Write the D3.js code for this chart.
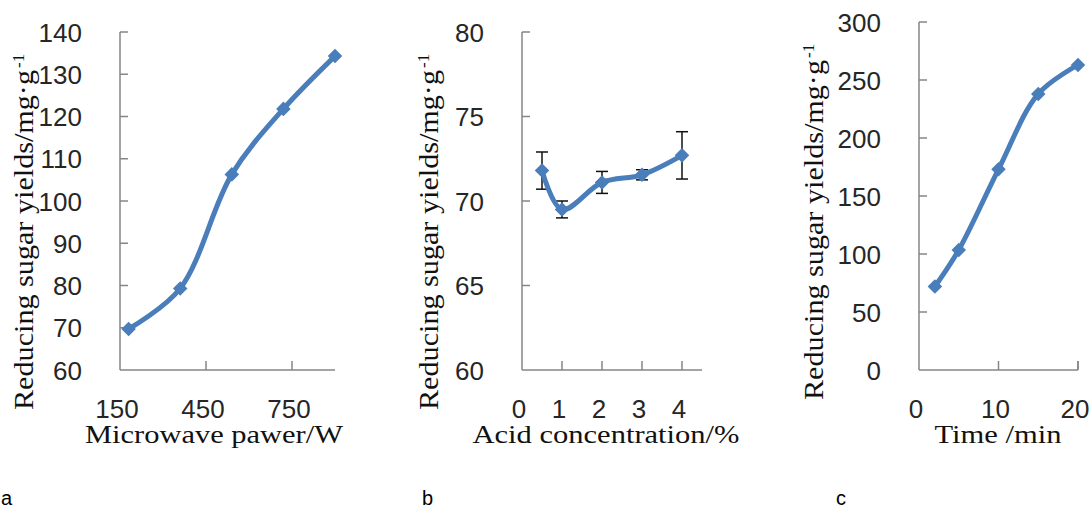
<!DOCTYPE html>
<html lang="en">
<head>
  <meta charset="UTF-8" />
  <title>Reducing sugar yields</title>
  <style>
    body { margin: 0; background: #fff; }
    svg { display: block; }
    .tick-label { font-family: "Liberation Sans", Arial, sans-serif; font-size: 26px; fill: #262626; }
    .axis-title { font-family: "Liberation Serif", "Times New Roman", serif; fill: #111; }
    .panel-label { font-family: "Liberation Sans", Arial, sans-serif; font-size: 20px; fill: #000; }
  </style>
</head>
<body>
  <div id="chart"></div>

  <script src="https://d3js.org/d3.v7.min.js"></script>

  <script>
    // panel a: microwave power
    const powerW = [180, 360, 540, 720, 900];
    const powerYield = [69.7, 79.3, 106.3, 121.8, 134.3];
    const powerTicks = [150, 450, 750];
    const powerYTicks = [60, 70, 80, 90, 100, 110, 120, 130, 140];

    // panel b: acid concentration (with error bars)
    const acidPct = [0.5, 1, 2, 3, 4];
    const acidYield = [71.8, 69.5, 71.1, 71.55, 72.7];
    const acidErr = [1.1, 0.5, 0.65, 0.3, 1.4];
    const acidTicks = [0, 1, 2, 3, 4];
    const acidYTicks = [60, 65, 70, 75, 80];

    // panel c: time
    const timeMin = [2, 5, 10, 15, 20];
    const timeYield = [72, 103.5, 173, 238, 263];
    const timeTicks = [0, 10, 20];
    const timeYTicks = [0, 50, 100, 150, 200, 250, 300];

    const blue = "#4a7ebb";
    const axisColor = "#868686";

    const svg = d3.select("#chart")
      .append("svg")
      .attr("width", 1092)
      .attr("height", 510);

    const panels = [
      {
        xs: powerW, ys: powerYield, err: null,
        xDomain: [150, 900], yDomain: [60, 140],
        xTicks: powerTicks, yTicks: powerYTicks,
        left: 120, right: 335, top: 32, bottom: 370,
        xTitle: "Microwave pawer/W", xTitleX: 214, xTitleLen: 258,
        yTitleX: 33, yTitleStart: 410, letter: "a", letterX: 1
      },
      {
        xs: acidPct, ys: acidYield, err: acidErr,
        xDomain: [0, 4.5], yDomain: [60, 80],
        xTicks: acidTicks, yTicks: acidYTicks,
        left: 522, right: 702, top: 32, bottom: 370,
        xTitle: "Acid concentration/%", xTitleX: 606, xTitleLen: 267,
        yTitleX: 438, yTitleStart: 410, letter: "b", letterX: 422
      },
      {
        xs: timeMin, ys: timeYield, err: null,
        xDomain: [0, 20], yDomain: [0, 300],
        xTicks: timeTicks, yTicks: timeYTicks,
        left: 919, right: 1078, top: 22, bottom: 370,
        xTitle: "Time /min", xTitleX: 998, xTitleLen: 127,
        yTitleX: 823, yTitleStart: 400, letter: "c", letterX: 836
      }
    ];

    panels.forEach(p => {
      const x = d3.scaleLinear().domain(p.xDomain).range([p.left, p.right]);
      const y = d3.scaleLinear().domain(p.yDomain).range([p.bottom, p.top]);
      const g = svg.append("g");

      // axes lines
      g.append("line")
        .attr("x1", p.left).attr("x2", p.left)
        .attr("y1", y(p.yDomain[1])).attr("y2", p.bottom)
        .attr("stroke", axisColor).attr("stroke-width", 1.5);
      g.append("line")
        .attr("x1", p.left).attr("x2", p.right)
        .attr("y1", p.bottom).attr("y2", p.bottom)
        .attr("stroke", axisColor).attr("stroke-width", 1.5);

      // y ticks (inside)
      g.selectAll(".ytick")
        .data(p.yTicks.filter(v => v !== p.yDomain[0]))
        .enter().append("line")
        .attr("x1", p.left).attr("x2", p.left + 8)
        .attr("y1", d => y(d)).attr("y2", d => y(d))
        .attr("stroke", axisColor).attr("stroke-width", 1.5);

      g.selectAll(".ylab")
        .data(p.yTicks)
        .enter().append("text")
        .attr("class", "tick-label")
        .attr("x", p.left - 38)
        .attr("y", d => y(d) + 9.5)
        .attr("text-anchor", "end")
        .text(d => d);

      // x ticks (inside)
      g.selectAll(".xtick")
        .data(p.xTicks.filter(v => v !== p.xDomain[0]).concat(p.xDomain[1] === 20 ? [20] : []))
        .enter().append("line")
        .attr("x1", d => x(d)).attr("x2", d => x(d))
        .attr("y1", p.bottom).attr("y2", p.bottom - 9)
        .attr("stroke", axisColor).attr("stroke-width", 1.5);

      g.selectAll(".xlab")
        .data(p.xTicks)
        .enter().append("text")
        .attr("class", "tick-label")
        .attr("x", d => x(d) - 3)
        .attr("y", 418)
        .attr("text-anchor", "middle")
        .text(d => d);

      // titles
      g.append("text")
        .attr("class", "axis-title")
        .attr("x", p.xTitleX)
        .attr("y", 443)
        .attr("text-anchor", "middle")
        .attr("font-size", "25px")
        .attr("textLength", p.xTitleLen)
        .attr("lengthAdjust", "spacingAndGlyphs")
        .text(p.xTitle);

      const yt = g.append("text")
        .attr("class", "axis-title")
        .attr("transform", `translate(${p.yTitleX},${p.yTitleStart}) rotate(-90)`)
        .attr("font-size", "28px");
      yt.append("tspan")
        .attr("textLength", 340)
        .attr("lengthAdjust", "spacingAndGlyphs")
        .text("Reducing sugar yields/mg\u00b7g");
      yt.append("tspan")
        .attr("x", 342)
        .attr("dy", -9)
        .attr("font-size", "17px")
        .text("-1");

      g.append("text")
        .attr("class", "panel-label")
        .attr("x", p.letterX)
        .attr("y", 505)
        .text(p.letter);

      const pts = p.xs.map((v, i) => ({ x: v, y: p.ys[i], e: p.err ? p.err[i] : 0 }));

      // error bars
      if (p.err) {
        const eb = g.selectAll(".err").data(pts).enter().append("g");
        eb.append("line")
          .attr("x1", d => x(d.x)).attr("x2", d => x(d.x))
          .attr("y1", d => y(d.y + d.e)).attr("y2", d => y(d.y - d.e))
          .attr("stroke", "#111").attr("stroke-width", 1.5);
        [1, -1].forEach(s => {
          eb.append("line")
            .attr("x1", d => x(d.x) - 6).attr("x2", d => x(d.x) + 6)
            .attr("y1", d => y(d.y + s * d.e)).attr("y2", d => y(d.y + s * d.e))
            .attr("stroke", "#111").attr("stroke-width", 1.5);
        });
      }

      const line = d3.line()
        .x(d => x(d.x))
        .y(d => y(d.y))
        .curve(d3.curveCatmullRom.alpha(0.5));

      g.append("path")
        .datum(pts)
        .attr("d", line)
        .attr("fill", "none")
        .attr("stroke", blue)
        .attr("stroke-width", 5)
        .attr("stroke-linejoin", "round");

      g.selectAll(".marker")
        .data(pts)
        .enter().append("path")
        .attr("d", d3.symbol().type(d3.symbolDiamond2).size(135))
        .attr("transform", d => `translate(${x(d.x)},${y(d.y)})`)
        .attr("fill", blue);
    });
  </script>
</body>
</html>
